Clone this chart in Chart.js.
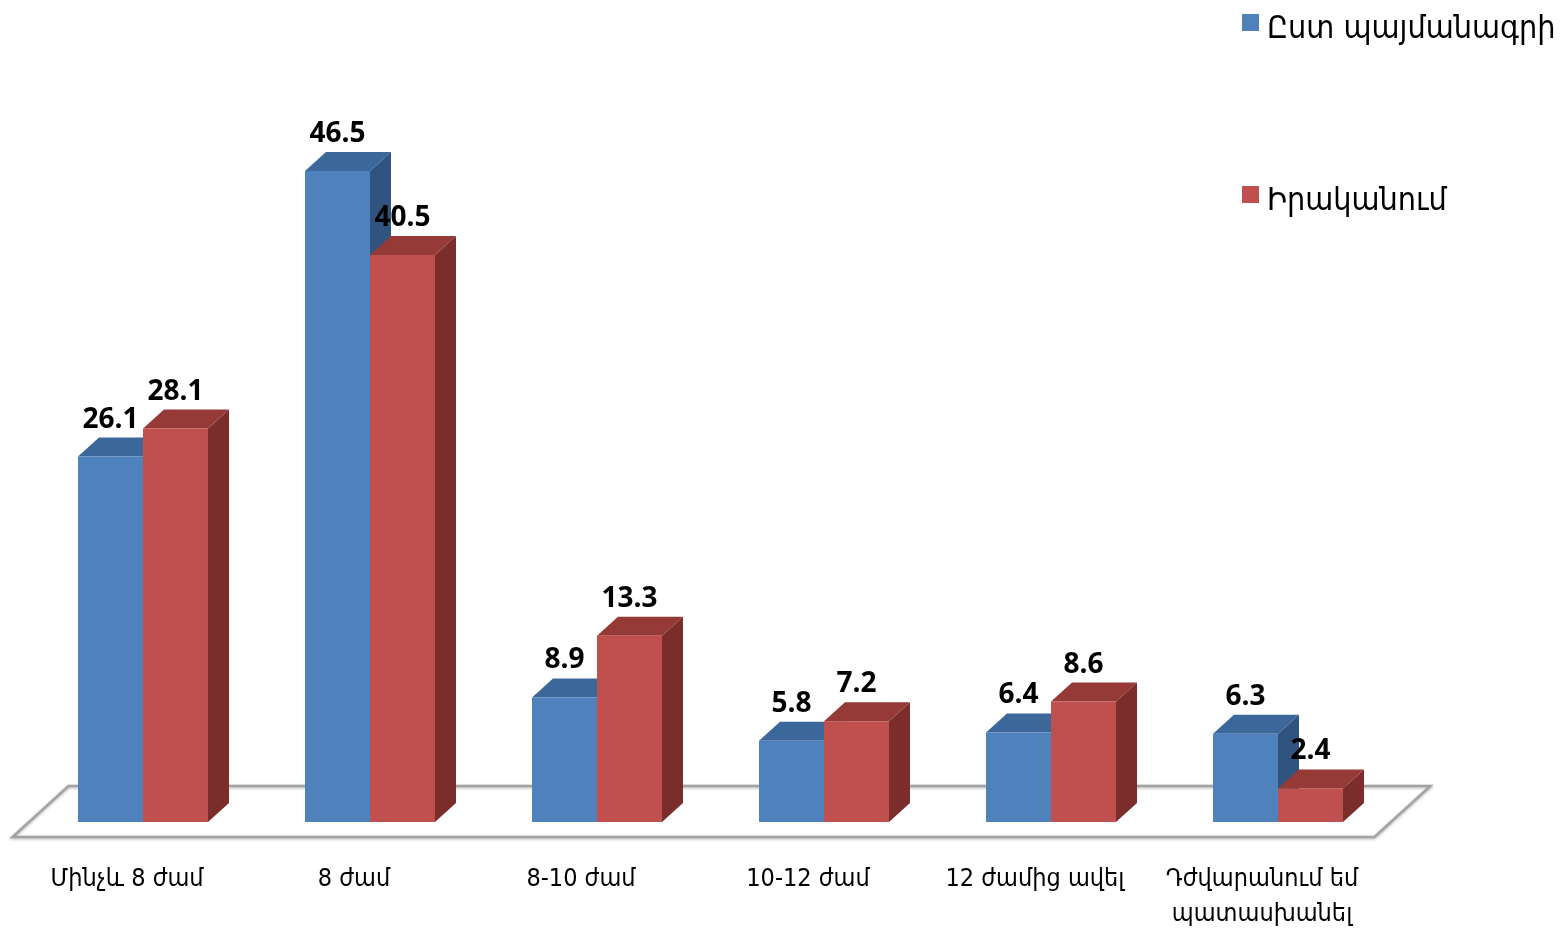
<!DOCTYPE html>
<html>
<head>
<meta charset="utf-8">
<script src="https://cdn.jsdelivr.net/npm/chart.js@4"></script>
<style>
  body { margin: 0; background: #fff; }
  #wrap { width: 1567px; height: 929px; position: relative; }
</style>
</head>
<body>
<div id="wrap"><canvas id="chart"></canvas></div>
<script>
var categories = [
  'Մինչև 8 ժամ', '8 ժամ', '8-10 ժամ', '10-12 ժամ', '12 ժամից ավել',
  ['Դժվարանում եմ', 'պատասխանել']
];
var byContract = [26.1, 46.5, 8.9, 5.8, 6.4, 6.3];
var actual = [28.1, 40.5, 13.3, 7.2, 8.6, 2.4];
var seriesNames = ['Ըստ պայմանագրի', 'Իրականում'];

// 3d depth of the bars
var DX = 21, DY = 19;

var bars3d = {
  id: 'bars3d',
  beforeDatasetsDraw(chart) {
    var ctx = chart.ctx, area = chart.chartArea;
    var zero = chart.scales.y.getPixelForValue(0);

    // floor
    ctx.save();
    ctx.strokeStyle = '#a3a3a3';
    ctx.lineWidth = 2.5;
    ctx.shadowColor = 'rgba(0,0,0,0.3)';
    ctx.shadowBlur = 3;
    ctx.shadowOffsetY = 1;
    ctx.beginPath();
    ctx.moveTo(area.left - 17, zero + 15);
    ctx.lineTo(area.right - 17, zero + 15);
    ctx.lineTo(area.right + 39, zero - 36);
    ctx.lineTo(area.left + 39, zero - 36);
    ctx.closePath();
    ctx.stroke();
    ctx.restore();

    // side + top faces, front faces are the normal bars
    for (var i = 0; i < chart.data.labels.length; i++) {
      chart.data.datasets.forEach(function (ds, d) {
        var p = chart.getDatasetMeta(d).data[i].getProps(['x', 'y', 'base', 'width'], true);
        var l = p.x - p.width / 2, r = p.x + p.width / 2;
        ctx.fillStyle = ds.sideColor;
        ctx.beginPath();
        ctx.moveTo(r, p.y);
        ctx.lineTo(r + DX, p.y - DY);
        ctx.lineTo(r + DX, p.base - DY);
        ctx.lineTo(r, p.base);
        ctx.closePath();
        ctx.fill();
        ctx.fillStyle = ds.topColor;
        ctx.beginPath();
        ctx.moveTo(l, p.y);
        ctx.lineTo(l + DX, p.y - DY);
        ctx.lineTo(r + DX, p.y - DY);
        ctx.lineTo(r, p.y);
        ctx.closePath();
        ctx.fill();
      });
    }
  },
  afterDatasetsDraw(chart) {
    var ctx = chart.ctx;
    ctx.save();
    ctx.font = '700 28px "Open Sans"';
    ctx.fillStyle = '#000';
    ctx.textAlign = 'center';
    ctx.textBaseline = 'alphabetic';
    chart.data.datasets.forEach(function (ds, d) {
      chart.getDatasetMeta(d).data.forEach(function (bar, i) {
        var p = bar.getProps(['x', 'y'], true);
        ctx.fillText(ds.data[i].toFixed(1), p.x, p.y - DY - 10);
      });
    });
    ctx.restore();
  },
  afterDraw(chart) {
    // legend, top right
    var ctx = chart.ctx;
    var rows = [38, 210];
    ctx.save();
    ctx.font = '32px "DejaVu Sans Condensed", "DejaVu Sans"';
    ctx.textBaseline = 'alphabetic';
    ctx.textAlign = 'left';
    chart.data.datasets.forEach(function (ds, d) {
      ctx.fillStyle = ds.backgroundColor;
      ctx.fillRect(1242, rows[d] - 24, 17, 17);
      ctx.fillStyle = '#000';
      ctx.fillText(ds.label, 1267, rows[d]);
    });
    ctx.restore();
  }
};

new Chart(document.getElementById('chart'), {
  type: 'bar',
  data: {
    labels: categories,
    datasets: [{
      label: seriesNames[0],
      data: byContract,
      backgroundColor: '#4f81bd',
      topColor: '#3c679b',
      sideColor: '#30547f',
      categoryPercentage: 0.5727,
      barPercentage: 1
    }, {
      label: seriesNames[1],
      data: actual,
      backgroundColor: '#c0504d',
      topColor: '#963a38',
      sideColor: '#7b2d2c',
      categoryPercentage: 0.5727,
      barPercentage: 1
    }]
  },
  options: {
    responsive: true,
    maintainAspectRatio: false,
    animation: false,
    layout: {
      padding: { left: 29.5, right: 175.5, top: 122, bottom: 0 }
    },
    plugins: {
      legend: { display: false },
      tooltip: { enabled: false }
    },
    scales: {
      y: {
        display: false,
        min: 0,
        max: 50
      },
      x: {
        grid: { display: false, drawTicks: false },
        border: { display: false },
        ticks: {
          color: '#000',
          font: { family: '"DejaVu Sans Condensed", "DejaVu Sans"', size: 25, lineHeight: 1.4 },
          padding: 40,
          labelOffset: -16,
          maxRotation: 0,
          autoSkip: false
        },
        afterFit: function (scale) {
          scale.height = 107;
        }
      }
    }
  },
  plugins: [bars3d]
});
</script>
</body>
</html>
